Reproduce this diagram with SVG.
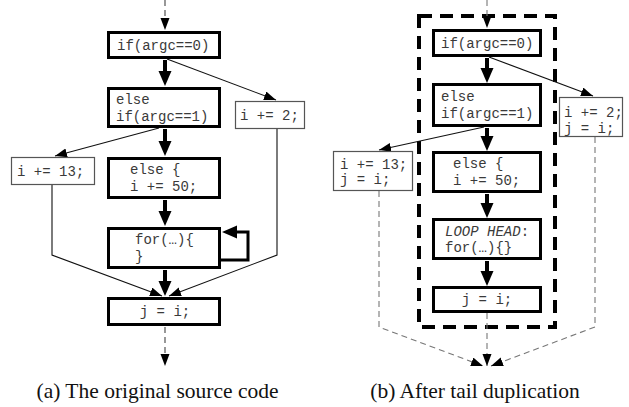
<svg xmlns="http://www.w3.org/2000/svg" width="629" height="407" viewBox="0 0 629 407">
  <style>
    .bg { fill: #ffffff; }
    .blk { fill: #ffffff; stroke: #000; stroke-width: 3; }
    .tail { fill: #ffffff; stroke: #555; stroke-width: 1.2; }
    .code { font-family: "Liberation Mono", "DejaVu Sans Mono", monospace; font-size: 14px; fill: #3a3a3a; }
    .it { font-style: italic; }
    .cap { font-family: "Liberation Serif", "Times New Roman", serif; font-size: 21.5px; fill: #111; text-anchor: middle; }
    .strong { fill: none; stroke: #000; stroke-width: 4; marker-end: url(#headBig); }
    .loop { fill: none; stroke: #000; stroke-width: 3; marker-end: url(#headBig); }
    .edge { fill: none; stroke: #111; stroke-width: 1.1; marker-end: url(#headSmall); }
    .dash { fill: none; stroke: #444; stroke-width: 1.1; stroke-dasharray: 6 4; marker-end: url(#headSmall); }
    .dashg { fill: none; stroke: #777; stroke-width: 1.1; stroke-dasharray: 6 4; marker-end: url(#headSmall); }
    .region { fill: none; stroke: #000; stroke-width: 4; stroke-dasharray: 13 8; }
  </style>
  <defs>
    <!-- large head: placed at the end of a shortened shaft -->
    <marker id="headBig" markerUnits="userSpaceOnUse" markerWidth="16" markerHeight="14" refX="0" refY="6.5" orient="auto">
      <path d="M0,0 L15,6.5 L0,13 z" fill="#000"/>
    </marker>
    <!-- small head: tip sits on the path end -->
    <marker id="headSmall" markerUnits="userSpaceOnUse" markerWidth="13" markerHeight="10" refX="12" refY="4.5" orient="auto">
      <path d="M0,0 L12,4.5 L0,9 z" fill="#000"/>
    </marker>
  </defs>

  <rect class="bg" x="0" y="0" width="629" height="407"/>

  <!-- (a) original control flow -->
  <g id="connectors-a">
    <path class="dash" d="M165,0 V30"/>
    <path class="strong" d="M165,60 V71"/>
    <path class="edge" d="M167,59 L276,100"/>
    <path class="edge" d="M159,128 L55,156"/>
    <path class="strong" d="M165,129 V141"/>
    <path class="strong" d="M165,200 V211"/>
    <path class="loop" d="M221,260 H248 V232 H237"/>
    <path class="strong" d="M165,270 V281"/>
    <path class="edge" d="M52,185 V255 L162,296"/>
    <path class="edge" d="M277,129 V255 L169,296"/>
    <path class="dash" d="M165,327 V366"/>
  </g>

  <g id="a-cond0">
    <rect class="blk" x="108.5" y="32.5" width="111" height="25"/>
    <text class="code" x="117" y="49.5">if(argc==0)</text>
  </g>
  <g id="a-cond1">
    <rect class="blk" x="108.5" y="88.5" width="111" height="38"/>
    <text class="code" x="116" y="104">else</text>
    <text class="code" x="116" y="120.5">if(argc==1)</text>
  </g>
  <g id="a-add2">
    <rect class="tail" x="235.5" y="101.5" width="69" height="27"/>
    <text class="code" x="240" y="120">i += 2;</text>
  </g>
  <g id="a-add13">
    <rect class="tail" x="11.5" y="157.5" width="83" height="27"/>
    <text class="code" x="17" y="175.5">i += 13;</text>
  </g>
  <g id="a-add50">
    <rect class="blk" x="108.5" y="158.5" width="111" height="39"/>
    <text class="code" x="130" y="174">else {</text>
    <text class="code" x="130" y="190.5">i += 50;</text>
  </g>
  <g id="a-loop">
    <rect class="blk" x="108.5" y="228.5" width="111" height="39"/>
    <text class="code" x="135" y="244">for(…){</text>
    <text class="code" x="135" y="261">}</text>
  </g>
  <g id="a-join">
    <rect class="blk" x="108.5" y="298.5" width="111" height="26"/>
    <text class="code" x="165" y="315.5" text-anchor="middle">j = i;</text>
  </g>

  <text class="cap" x="157.5" y="398">(a) The original source code</text>

  <!-- (b) after tail duplication -->
  <rect id="b-region" class="region" x="419" y="16" width="136" height="311"/>

  <g id="connectors-b">
    <path class="dashg" d="M487,0 V28"/>
    <path class="strong" d="M487,58 V68"/>
    <path class="edge" d="M489,57 L593,96"/>
    <path class="edge" d="M484,127 L379,150"/>
    <path class="strong" d="M487,128 V136"/>
    <path class="strong" d="M487,194 V203"/>
    <path class="strong" d="M487,261 V271"/>
    <path class="dashg" d="M379,191 V327 L483,366"/>
    <path class="dashg" d="M595,137 V327 L491,366"/>
    <path class="dashg" d="M487,313 V366"/>
  </g>

  <g id="b-cond0">
    <rect class="blk" x="433.5" y="30.5" width="107" height="25"/>
    <text class="code" x="441" y="47.5">if(argc==0)</text>
  </g>
  <g id="b-cond1">
    <rect class="blk" x="433.5" y="84.5" width="107" height="41"/>
    <text class="code" x="441" y="101">else</text>
    <text class="code" x="441" y="117.5">if(argc==1)</text>
  </g>
  <g id="b-add2">
    <rect class="tail" x="559.5" y="97.5" width="63" height="39"/>
    <text class="code" x="564" y="117">i += 2;</text>
    <text class="code" x="564" y="132.5">j = i;</text>
  </g>
  <g id="b-add13">
    <rect class="tail" x="333.5" y="151.5" width="79" height="39"/>
    <text class="code" x="340" y="169">i += 13;</text>
    <text class="code" x="340" y="184">j = i;</text>
  </g>
  <g id="b-add50">
    <rect class="blk" x="433.5" y="152.5" width="107" height="39"/>
    <text class="code" x="453" y="168">else {</text>
    <text class="code" x="453" y="184.5">i += 50;</text>
  </g>
  <g id="b-loop">
    <rect class="blk" x="433.5" y="219.5" width="107" height="39"/>
    <text class="code" x="445" y="236"><tspan class="it">LOOP HEAD</tspan>:</text>
    <text class="code" x="445" y="251.5">for(…){}</text>
  </g>
  <g id="b-join">
    <rect class="blk" x="433.5" y="287.5" width="107" height="24"/>
    <text class="code" x="487" y="304" text-anchor="middle">j = i;</text>
  </g>

  <text class="cap" x="475" y="398">(b) After tail duplication</text>
</svg>
